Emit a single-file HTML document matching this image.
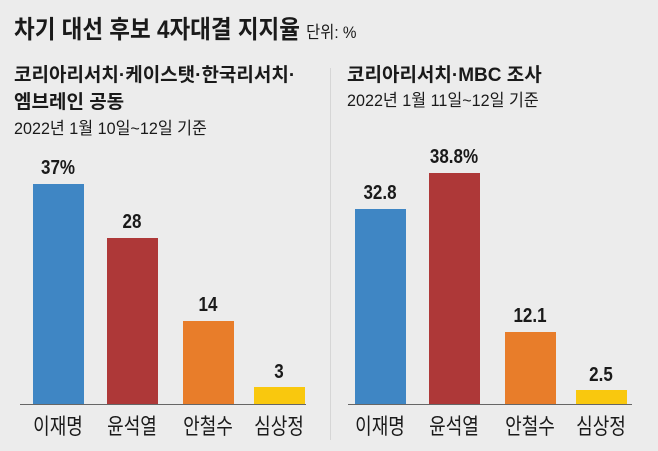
<!DOCTYPE html>
<html><head><meta charset="utf-8"><style>
body{margin:0;width:658px;height:451px;background:#ececec;overflow:hidden;position:relative;font-family:"Liberation Sans","Noto Sans CJK KR",sans-serif;color:#1a1a1a}
.t{position:absolute;white-space:nowrap;transform-origin:0 0}
.b{position:absolute}
.v{position:absolute;width:80px;text-align:center;font-size:20px;font-weight:bold;transform:scaleX(0.85)}
.l{position:absolute;width:80px;text-align:center;font-size:22px;transform:scaleX(0.82)}
</style></head><body>
<div class="t" style="left:14px;top:10px;font-size:25px;font-weight:bold;transform:scaleX(0.9)">차기 대선 후보 4자대결 지지율 <span style="font-size:17px;font-weight:normal">단위: %</span></div>
<div class="t" style="left:14px;top:60px;font-size:19px;font-weight:bold">코리아리서치·케이스탯·한국리서치·</div>
<div class="t" style="left:14px;top:87px;font-size:19px;font-weight:bold">엠브레인 공동</div>
<div class="t" style="left:14px;top:114px;font-size:17px;transform:scaleX(0.95)">2022년 1월 10일~12일 기준</div>
<div class="t" style="left:347px;top:60px;font-size:19px;font-weight:bold">코리아리서치·MBC 조사</div>
<div class="t" style="left:347px;top:86px;font-size:17px;transform:scaleX(0.95)">2022년 1월 11일~12일 기준</div>
<div class="b" style="left:330px;top:68px;width:1px;height:372px;background:#d6d6d6"></div>

<div class="b" style="left:33px;top:184px;width:51px;height:220px;background:#3f86c4"></div>
<div class="b" style="left:107px;top:238px;width:51px;height:166px;background:#ae3838"></div>
<div class="b" style="left:183px;top:321px;width:51px;height:83px;background:#e87d2a"></div>
<div class="b" style="left:254px;top:387px;width:51px;height:17px;background:#f9c80e"></div>
<div class="b" style="left:20px;top:404px;width:286px;height:1px;background:#666"></div>
<div class="v" style="left:18px;top:157px">37%</div>
<div class="v" style="left:92px;top:211px">28</div>
<div class="v" style="left:168px;top:294px">14</div>
<div class="v" style="left:239px;top:361px">3</div>
<div class="l" style="left:18px;top:409px">이재명</div>
<div class="l" style="left:92px;top:409px">윤석열</div>
<div class="l" style="left:168px;top:409px">안철수</div>
<div class="l" style="left:239px;top:409px">심상정</div>

<div class="b" style="left:355px;top:209px;width:51px;height:195px;background:#3f86c4"></div>
<div class="b" style="left:429px;top:173px;width:51px;height:231px;background:#ae3838"></div>
<div class="b" style="left:505px;top:332px;width:51px;height:72px;background:#e87d2a"></div>
<div class="b" style="left:576px;top:390px;width:51px;height:14px;background:#f9c80e"></div>
<div class="b" style="left:348px;top:404px;width:284px;height:1px;background:#666"></div>
<div class="v" style="left:340px;top:182px">32.8</div>
<div class="v" style="left:414px;top:146px">38.8%</div>
<div class="v" style="left:490px;top:305px">12.1</div>
<div class="v" style="left:561px;top:364px">2.5</div>
<div class="l" style="left:340px;top:409px">이재명</div>
<div class="l" style="left:414px;top:409px">윤석열</div>
<div class="l" style="left:490px;top:409px">안철수</div>
<div class="l" style="left:561px;top:409px">심상정</div>
</body></html>
